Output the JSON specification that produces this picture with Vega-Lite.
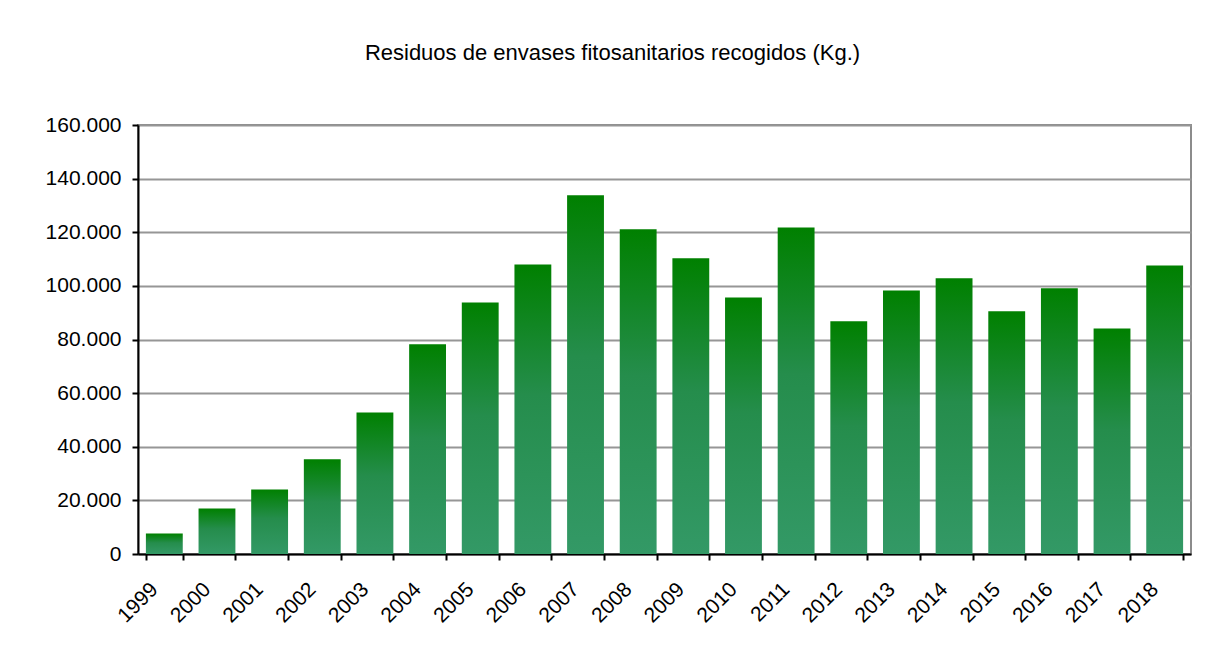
{
  "$schema": "https://vega.github.io/schema/vega-lite/v6.json",
  "width": 1053,
  "height": 429,
  "autosize": {"type": "none"},
  "padding": {"left": 138, "top": 125, "right": 30, "bottom": 102},
  "background": "white",
  "title": {
    "text": "Residuos de envases fitosanitarios recogidos (Kg.)",
    "font": "Liberation Sans",
    "fontSize": 22,
    "fontWeight": "normal",
    "color": "black",
    "anchor": "middle",
    "baseline": "bottom",
    "offset": 27,
    "dx": -52
  },
  "data": {
    "values": [
      {"year": "1999", "kg": 7600},
      {"year": "2000", "kg": 17000},
      {"year": "2001", "kg": 24100},
      {"year": "2002", "kg": 35300},
      {"year": "2003", "kg": 52800},
      {"year": "2004", "kg": 78200},
      {"year": "2005", "kg": 93800},
      {"year": "2006", "kg": 108000},
      {"year": "2007", "kg": 133800},
      {"year": "2008", "kg": 121100},
      {"year": "2009", "kg": 110300},
      {"year": "2010", "kg": 95700},
      {"year": "2011", "kg": 121800},
      {"year": "2012", "kg": 86800},
      {"year": "2013", "kg": 98300},
      {"year": "2014", "kg": 102800},
      {"year": "2015", "kg": 90500},
      {"year": "2016", "kg": 99100},
      {"year": "2017", "kg": 84100},
      {"year": "2018", "kg": 107600}
    ]
  },
  "mark": {
    "type": "bar",
    "fill": {
      "gradient": "linear",
      "x1": 0, "y1": 0, "x2": 0, "y2": 1,
      "stops": [
        {"offset": 0, "color": "#008000"},
        {"offset": 0.45, "color": "#258d4c"},
        {"offset": 1, "color": "#339966"}
      ]
    }
  },
  "encoding": {
    "x": {
      "field": "year",
      "type": "ordinal",
      "sort": null,
      "scale": {"paddingInner": 0.3, "paddingOuter": 0.15},
      "axis": {
        "title": null,
        "labelAngle": -45,
        "labelAlign": "right",
        "labelBaseline": "middle",
        "labelOffset": -10,
        "labelPadding": 26,
        "labelFont": "Liberation Sans",
        "labelFontSize": 21,
        "labelColor": "black",
        "tickBand": "extent",
        "tickSize": 6,
        "tickWidth": 2,
        "tickColor": "black",
        "domainColor": "black",
        "domainWidth": 2,
        "grid": false
      }
    },
    "y": {
      "field": "kg",
      "type": "quantitative",
      "scale": {"domain": [0, 160000], "nice": false},
      "axis": {
        "title": null,
        "values": [0, 20000, 40000, 60000, 80000, 100000, 120000, 140000, 160000],
        "labelExpr": "replace(format(datum.value, ','), ',', '.')",
        "labelFont": "Liberation Sans",
        "labelFontSize": 21,
        "labelColor": "black",
        "labelPadding": 11,
        "tickSize": 6,
        "tickWidth": 2,
        "tickColor": "black",
        "domainColor": "black",
        "domainWidth": 2,
        "grid": true,
        "gridColor": "#969696",
        "gridWidth": 2
      }
    }
  },
  "config": {
    "view": {"stroke": "#8c8c8c", "strokeWidth": 2}
  }
}
